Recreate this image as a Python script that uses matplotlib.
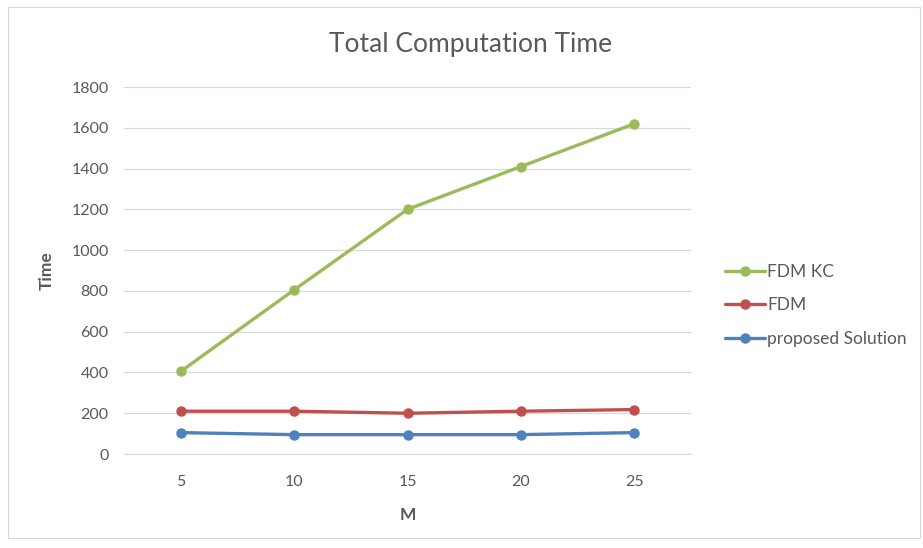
import matplotlib.pyplot as plt
from matplotlib.patches import Rectangle

# data
m_values = ["5", "10", "15", "20", "25"]
fdm_kc = [405, 805, 1200, 1410, 1620]
fdm = [210, 210, 200, 210, 218]
proposed = [105, 95, 95, 95, 105]

series_names = ["FDM KC", "FDM", "proposed Solution"]
colors = ["#9BBB59", "#C0504D", "#4F81BD"]
text_gray = "#595959"

plt.rcParams['font.family'] = ['Lato', 'DejaVu Sans']

fig = plt.figure(figsize=(9.23, 5.48), dpi=100)
ax = fig.add_axes([0.1343, 0.1715, 0.6144, 0.6697])

# light chart border
fig.patches.append(Rectangle((8 / 923, 10 / 548), 912 / 923, 531 / 548,
                             transform=fig.transFigure, fill=False,
                             edgecolor="#d9d9d9", linewidth=0.8))

x = range(len(m_values))
for vals, name, c in zip([fdm_kc, fdm, proposed], series_names, colors):
    ax.plot(x, vals, color=c, linewidth=2.4, marker="o", markersize=6.5,
            label=name, solid_capstyle="round")

ax.set_xlim(-0.5, len(m_values) - 0.5)
ax.set_ylim(0, 1800)
ax.set_yticks(range(0, 1801, 200))
ax.set_xticks(list(x))
ax.set_xticklabels(m_values)
ax.grid(axis="y", color="#d9d9d9", linewidth=0.9)
ax.set_axisbelow(True)

for side in ["top", "right", "left"]:
    ax.spines[side].set_visible(False)
ax.spines["bottom"].set_color("#d9d9d9")
ax.spines["bottom"].set_linewidth(0.9)
ax.tick_params(axis="both", length=0, colors=text_gray, labelsize=11.5)
ax.tick_params(axis="y", pad=11)
ax.tick_params(axis="x", pad=15)

ax.set_xlabel("M", fontsize=12.5, fontweight="bold", color=text_gray, labelpad=13)
ax.set_ylabel("Time", fontsize=12.5, fontweight="bold", color=text_gray, labelpad=12)
fig.text(0.510, 0.918, "Total Computation Time", ha="center", va="center",
         fontsize=19, color=text_gray)

leg = ax.legend(loc="center left", bbox_to_anchor=(1.045, 0.405), frameon=False,
                fontsize=12.5, labelcolor=text_gray, handlelength=2.3,
                handletextpad=0.1, labelspacing=1.0, borderpad=0)

fig.savefig("out.png", dpi=100, facecolor="white")
